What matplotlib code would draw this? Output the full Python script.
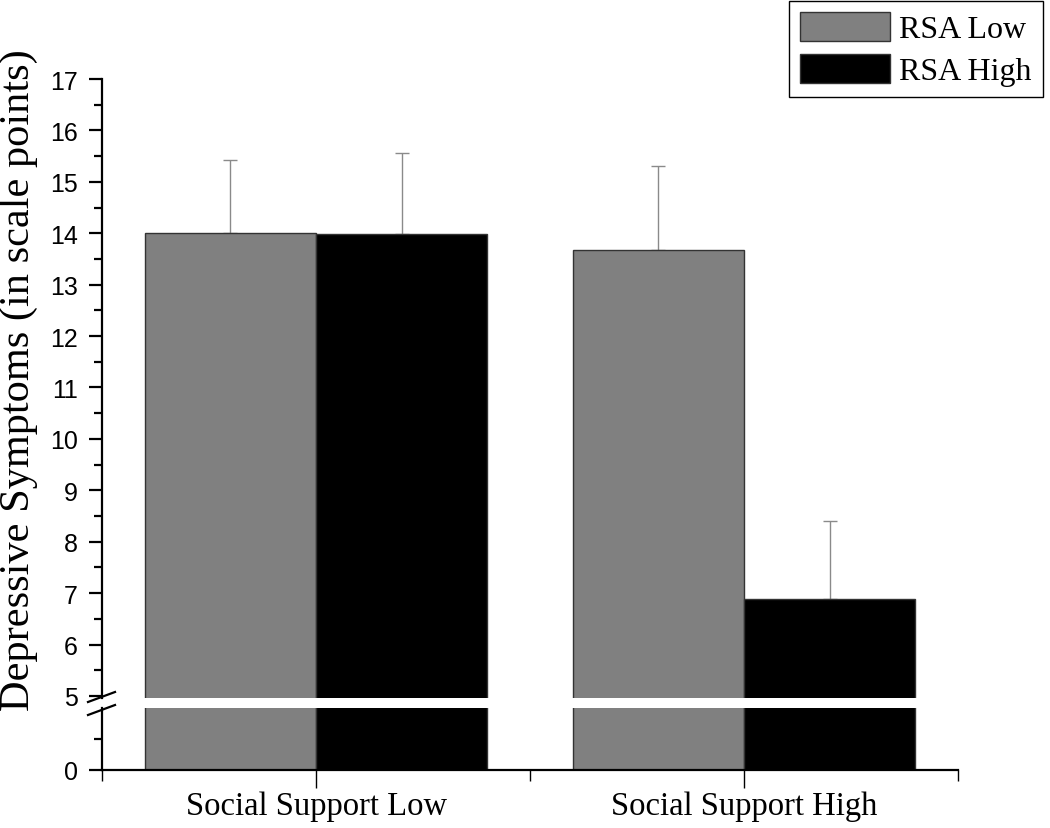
import matplotlib
matplotlib.use("Agg")
import matplotlib.pyplot as plt
from matplotlib.lines import Line2D
from matplotlib.ticker import MultipleLocator, FixedLocator

# data
groups = ["Social Support Low", "Social Support High"]
series = ["RSA Low", "RSA High"]
rsa_low = [14.0, 13.68]
rsa_high = [13.98, 6.89]
rsa_low_err = [1.43, 1.63]
rsa_high_err = [1.59, 1.51]
colors = ["#808080", "#000000"]

SERIF = ["Liberation Serif", "DejaVu Serif"]
SANS = ["Liberation Sans", "DejaVu Sans"]
SPINE_W = 1.6

fig = plt.figure(figsize=(10.5, 8.29), dpi=100)
left, right = 102 / 1050, 958 / 1050
ax_top = fig.add_axes([left, 130 / 829, right - left, (749 - 130) / 829])
ax_bot = fig.add_axes([left, 58 / 829, right - left, (120 - 58) / 829])

x = [1, 2]
width = 0.4
for ax in (ax_top, ax_bot):
    for i, (vals, errs) in enumerate([(rsa_low, rsa_low_err), (rsa_high, rsa_high_err)]):
        pos = [xi - width / 2 + i * width for xi in x]
        ax.bar(pos, vals, width=width, color=colors[i], edgecolor="#333333",
               linewidth=1.0, label=series[i], zorder=2)
        ax.errorbar(pos, vals, yerr=[[0] * len(vals), errs], fmt="none",
                    ecolor="#8a8a8a", elinewidth=1.0, capsize=4.8,
                    capthick=1.0, zorder=1)
    ax.set_xlim(0.5, 2.5)
    for s in ("top", "right"):
        ax.spines[s].set_visible(False)
    ax.spines["left"].set_linewidth(SPINE_W)
    ax.tick_params(axis="y", which="major", direction="out", length=9.5,
                   width=SPINE_W, labelsize=18, pad=8)
    ax.tick_params(axis="y", which="minor", direction="out", length=5.5,
                   width=SPINE_W)

ax_top.set_ylim(4.96, 17)
ax_top.yaxis.set_major_locator(MultipleLocator(1))
ax_top.yaxis.set_minor_locator(MultipleLocator(0.5))
ax_top.spines["bottom"].set_visible(False)
ax_top.tick_params(axis="x", which="both", bottom=False, labelbottom=False)

ax_bot.set_ylim(0, 5)
ax_bot.yaxis.set_major_locator(FixedLocator([0]))
ax_bot.yaxis.set_minor_locator(FixedLocator([2.5]))
ax_bot.spines["bottom"].set_linewidth(SPINE_W)
ax_bot.xaxis.set_major_locator(FixedLocator(x))
ax_bot.xaxis.set_minor_locator(FixedLocator([0.5, 1.5, 2.5]))
ax_bot.set_xticklabels(groups, family=SERIF, fontsize=23.5)
ax_bot.tick_params(axis="x", which="major", direction="out", length=13,
                   width=1.0, pad=2)
ax_bot.tick_params(axis="x", which="minor", direction="out", length=8,
                   width=1.0)

for ax in (ax_top, ax_bot):
    for lab in ax.get_yticklabels():
        lab.set_family(SANS)

# break marks on the y axis
for yb in (698, 711):
    fig.add_artist(Line2D([88 / 1050, 115 / 1050],
                          [(829 - yb - 5) / 829, (829 - yb + 5) / 829],
                          color="black", lw=SPINE_W))

fig.text(0.018, 0.542, "Depressive Symptoms (in scale points)", rotation=90,
         va="center", ha="center", family=SERIF, fontsize=30.5)

handles, labels = ax_top.get_legend_handles_labels()
leg = fig.legend(handles, labels, loc="upper right",
                 bbox_to_anchor=(1043 / 1050, 1 - 2 / 829),
                 prop={"family": SERIF, "size": 23}, frameon=True,
                 fancybox=False, edgecolor="black", framealpha=1,
                 handlelength=2.8, handleheight=1.0, borderpad=0.35,
                 labelspacing=0.3, handletextpad=0.3, borderaxespad=0)
leg.get_frame().set_linewidth(1.0)

fig.savefig("out.png", dpi=100)
